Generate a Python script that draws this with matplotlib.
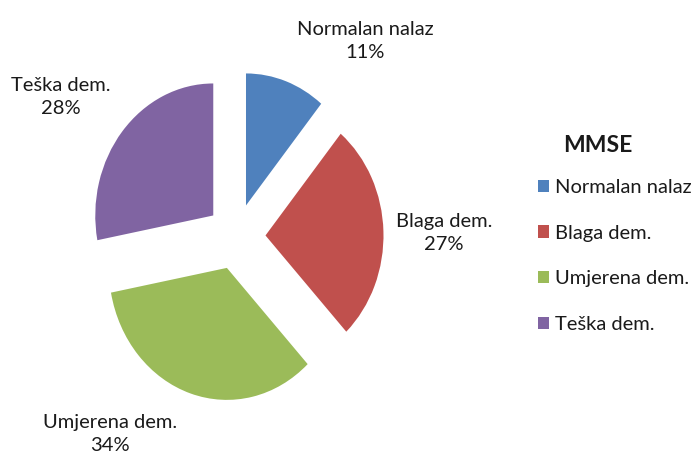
import matplotlib
matplotlib.use("Agg")
import matplotlib.pyplot as plt

labels = ["Normalan nalaz", "Blaga dem.", "Umjerena dem.", "Teška dem."]
values = [11, 27, 34, 28]
colors = ["#4F81BD", "#C0504D", "#9BBB59", "#8064A2"]
legend_title = "MMSE"

# label positions (data units, pie radius = 1)
label_pos = [(1.093, 1.481), (1.763, 0.027), (-1.068, -1.497), (-1.483, 1.057)]

plt.rcParams["font.family"] = ["Lato", "DejaVu Sans"]

W, H = 693, 457
fig = plt.figure(figsize=(W / 100, H / 100), dpi=100)
ax = fig.add_axes([0, 0, 1, 1])

wedges, _ = ax.pie(values, colors=colors, startangle=90, counterclock=False,
                   explode=[0.25] * len(values), radius=1.0,
                   wedgeprops=dict(linewidth=0))

for lab, v, (x, y) in zip(labels, values, label_pos):
    ax.text(x, y, f"{lab}\n{v}%", ha="center", va="center", fontsize=14.5,
            linespacing=1.4, color="#1a1a1a")

# pie is drawn slightly squeezed horizontally, like the original
cx, cy, sx, sy = 236, 236.5, 118, 132
ax.set_xlim(-cx / sx, (W - cx) / sx)
ax.set_ylim(-(H - cy) / sy, cy / sy)
ax.set_aspect("auto")
ax.axis("off")

fig.text(598 / W, 1 - 145 / H, legend_title, ha="center", va="center",
         fontsize=16.5, fontweight="bold", color="#1a1a1a")

leg = ax.legend(wedges, labels, loc="upper left",
                bbox_to_anchor=(538 / W, 1 - 179 / H),
                bbox_transform=fig.transFigure,
                frameon=False, fontsize=14.5, handlelength=0.55, handleheight=0.55,
                handletextpad=0.3, labelspacing=1.42, borderpad=0,
                borderaxespad=0)
for t in leg.get_texts():
    t.set_color("#1a1a1a")

fig.savefig("out.png", dpi=100)
